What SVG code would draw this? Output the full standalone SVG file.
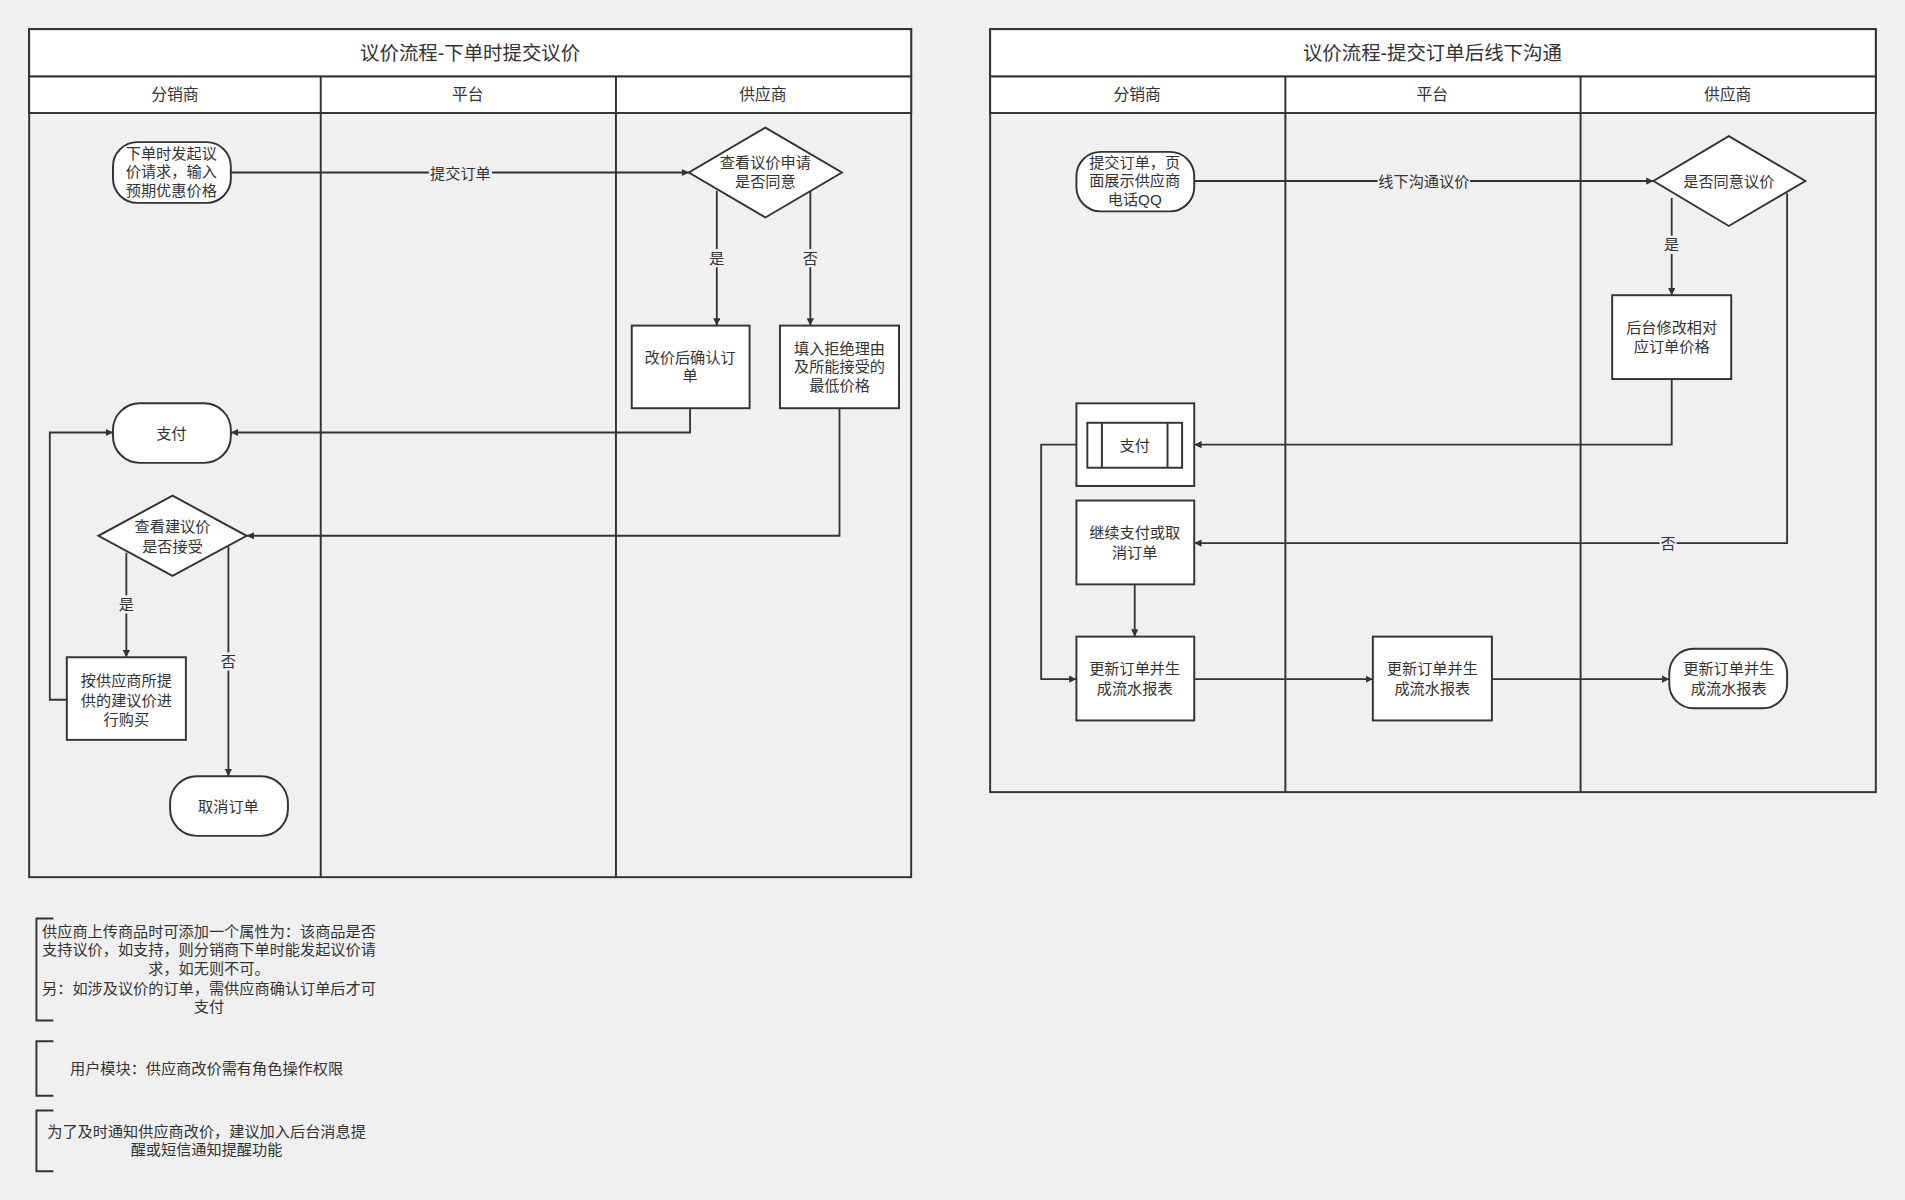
<svg xmlns="http://www.w3.org/2000/svg" width="1905" height="1200" viewBox="0 0 1905 1200">
<defs>
<marker id="ah" viewBox="0 0 10 10" refX="10" refY="5" markerWidth="6" markerHeight="6" orient="auto" markerUnits="userSpaceOnUse"><path d="M0,0 L10,5 L0,10 z" fill="#333"/></marker>
<style>
text{font-family:"Liberation Sans","Noto Sans CJK SC",sans-serif;fill:#333;text-anchor:middle;}
.n{font-size:12.5px}
.h{font-size:13px}
.t{font-size:16px}
.s{fill:#fff;stroke:#333;stroke-width:1.6}
.b{fill:none;stroke:#333;stroke-width:1.6}
.e{fill:none;stroke:#333;stroke-width:1.5;marker-end:url(#ah)}
.lb{font-size:12.5px}
.lbg{fill:#f0f0f0}
</style>
</defs>
<rect width="1905" height="1200" fill="#f0f0f0"/>
<g transform="scale(1.2149)">
<g id="pool1">
<rect class="s" x="24" y="24" width="726" height="698" fill="none" style="fill:none"/>
<rect class="s" x="24" y="24" width="726" height="39"/>
<text class="t" x="387" y="49">议价流程-下单时提交议价</text>
<rect class="s" x="24" y="63" width="726" height="30"/>
<line class="b" x1="264" y1="63" x2="264" y2="722"/>
<line class="b" x1="507" y1="63" x2="507" y2="722"/>
<text class="h" x="144" y="82">分销商</text>
<text class="h" x="385" y="82">平台</text>
<text class="h" x="628" y="82">供应商</text>
</g>
<g id="pool2">
<rect class="b" x="815" y="24" width="729" height="628"/>
<rect class="s" x="815" y="24" width="729" height="39"/>
<text class="t" x="1179" y="49">议价流程-提交订单后线下沟通</text>
<rect class="s" x="815" y="63" width="729" height="30"/>
<line class="b" x1="1058" y1="63" x2="1058" y2="652"/>
<line class="b" x1="1301" y1="63" x2="1301" y2="652"/>
<text class="h" x="936" y="82">分销商</text>
<text class="h" x="1179" y="82">平台</text>
<text class="h" x="1422" y="82">供应商</text>
</g>
<g id="connectors">
<line class="e" x1="190" y1="142" x2="567" y2="142"/>
<rect class="lbg" x="353" y="135" width="52" height="15"/><text class="lb" x="379" y="147">提交订单</text>
<line class="e" x1="590" y1="157" x2="590" y2="268"/>
<rect class="lbg" x="583" y="205" width="14" height="15"/><text class="lb" x="590" y="217">是</text>
<line class="e" x1="667" y1="155" x2="667" y2="268"/>
<rect class="lbg" x="660" y="205" width="14" height="15"/><text class="lb" x="667" y="217">否</text>
<polyline class="e" points="568,336 568,356 190,356"/>
<polyline class="e" points="691,336 691,441 203,441"/>
<line class="e" x1="104" y1="455" x2="104" y2="541"/>
<rect class="lbg" x="97" y="490" width="14" height="15"/><text class="lb" x="104" y="502">是</text>
<line class="e" x1="188" y1="450" x2="188" y2="639"/>
<rect class="lbg" x="181" y="537" width="14" height="15"/><text class="lb" x="188" y="549">否</text>
<polyline class="e" points="55,576 41,576 41,356 93,356"/>

<line class="e" x1="983" y1="149" x2="1361" y2="149"/>
<rect class="lbg" x="1134" y="142" width="76" height="15"/><text class="lb" x="1172" y="154">线下沟通议价</text>
<line class="e" x1="1376" y1="163" x2="1376" y2="243"/>
<rect class="lbg" x="1369" y="194" width="14" height="15"/><text class="lb" x="1376" y="206">是</text>
<polyline class="e" points="1376,312 1376,366 983,366"/>
<polyline class="e" points="1471,159 1471,447 983,447"/>
<rect class="lbg" x="1366" y="440" width="14" height="15"/><text class="lb" x="1373" y="452">否</text>
<line class="e" x1="934" y1="481" x2="934" y2="524"/>
<polyline class="e" points="886,366 857,366 857,559 886,559"/>
<line class="e" x1="983" y1="559" x2="1130" y2="559"/>
<line class="e" x1="1228" y1="559" x2="1374" y2="559"/>
</g>
<g id="n1"><rect class="s" x="93" y="117" width="97" height="50" rx="20"/><text class="n" x="141" y="131">下单时发起议</text><text class="n" x="141" y="146">价请求，输入</text><text class="n" x="141" y="161">预期优惠价格</text></g>
<g id="n2"><polygon class="s" points="630,105 693,142 630,179 567,142"/><text class="n" x="630" y="138">查看议价申请</text><text class="n" x="630" y="154">是否同意</text></g>
<g id="n3"><rect class="s" x="520" y="268" width="97" height="68"/><text class="n" x="568" y="299">改价后确认订</text><text class="n" x="568" y="314">单</text></g>
<g id="n4"><rect class="s" x="642" y="268" width="98" height="68"/><text class="n" x="691" y="291">填入拒绝理由</text><text class="n" x="691" y="306">及所能接受的</text><text class="n" x="691" y="322">最低价格</text></g>
<g id="n5"><rect class="s" x="93" y="332" width="97" height="49" rx="22"/><text class="n" x="141" y="361">支付</text></g>
<g id="n6"><polygon class="s" points="142,408 203,441 142,474 81,441"/><text class="n" x="142" y="438">查看建议价</text><text class="n" x="142" y="454">是否接受</text></g>
<g id="n7"><rect class="s" x="55" y="541" width="98" height="68"/><text class="n" x="104" y="565">按供应商所提</text><text class="n" x="104" y="581">供的建议价进</text><text class="n" x="104" y="597">行购买</text></g>
<g id="n8"><rect class="s" x="140" y="639" width="97" height="49" rx="22"/><text class="n" x="188" y="668">取消订单</text></g>

<g id="m1"><rect class="s" x="886" y="125" width="97" height="49" rx="20"/><text class="n" x="934" y="138">提交订单，页</text><text class="n" x="934" y="153">面展示供应商</text><text class="n" x="934" y="169">电话QQ</text></g>
<g id="m2"><polygon class="s" points="1423,112 1486,149 1423,186 1361,149"/><text class="n" x="1423" y="154">是否同意议价</text></g>
<g id="m3"><rect class="s" x="1327" y="243" width="98" height="69"/><text class="n" x="1376" y="274">后台修改相对</text><text class="n" x="1376" y="290">应订单价格</text></g>
<g id="m4"><rect class="s" x="886" y="332" width="97" height="68"/><rect class="s" x="895" y="348" width="78" height="37"/><line class="b" x1="907" y1="348" x2="907" y2="385"/><line class="b" x1="961" y1="348" x2="961" y2="385"/><text class="n" x="934" y="371">支付</text></g>
<g id="m5"><rect class="s" x="886" y="412" width="97" height="69"/><text class="n" x="934" y="443">继续支付或取</text><text class="n" x="934" y="459">消订单</text></g>
<g id="m6"><rect class="s" x="886" y="524" width="97" height="69"/><text class="n" x="934" y="555">更新订单并生</text><text class="n" x="934" y="571">成流水报表</text></g>
<g id="m7"><rect class="s" x="1130" y="524" width="98" height="69"/><text class="n" x="1179" y="555">更新订单并生</text><text class="n" x="1179" y="571">成流水报表</text></g>
<g id="m8"><rect class="s" x="1374" y="534" width="97" height="49" rx="20"/><text class="n" x="1423" y="555">更新订单并生</text><text class="n" x="1423" y="571">成流水报表</text></g>

<g id="notes">
<polyline class="b" points="44,756 30,756 30,840 44,840"/>
<text class="n" x="172" y="771">供应商上传商品时可添加一个属性为：该商品是否</text>
<text class="n" x="172" y="786">支持议价，如支持，则分销商下单时能发起议价请</text>
<text class="n" x="172" y="802">求，如无则不可。</text>
<text class="n" x="172" y="818">另：如涉及议价的订单，需供应商确认订单后才可</text>
<text class="n" x="172" y="833">支付</text>
<polyline class="b" points="44,857 30,857 30,902 44,902"/>
<text class="n" x="170" y="884">用户模块：供应商改价需有角色操作权限</text>
<polyline class="b" points="44,914 30,914 30,964 44,964"/>
<text class="n" x="170" y="936">为了及时通知供应商改价，建议加入后台消息提</text>
<text class="n" x="170" y="951">醒或短信通知提醒功能</text>
</g>
</g>
</svg>
